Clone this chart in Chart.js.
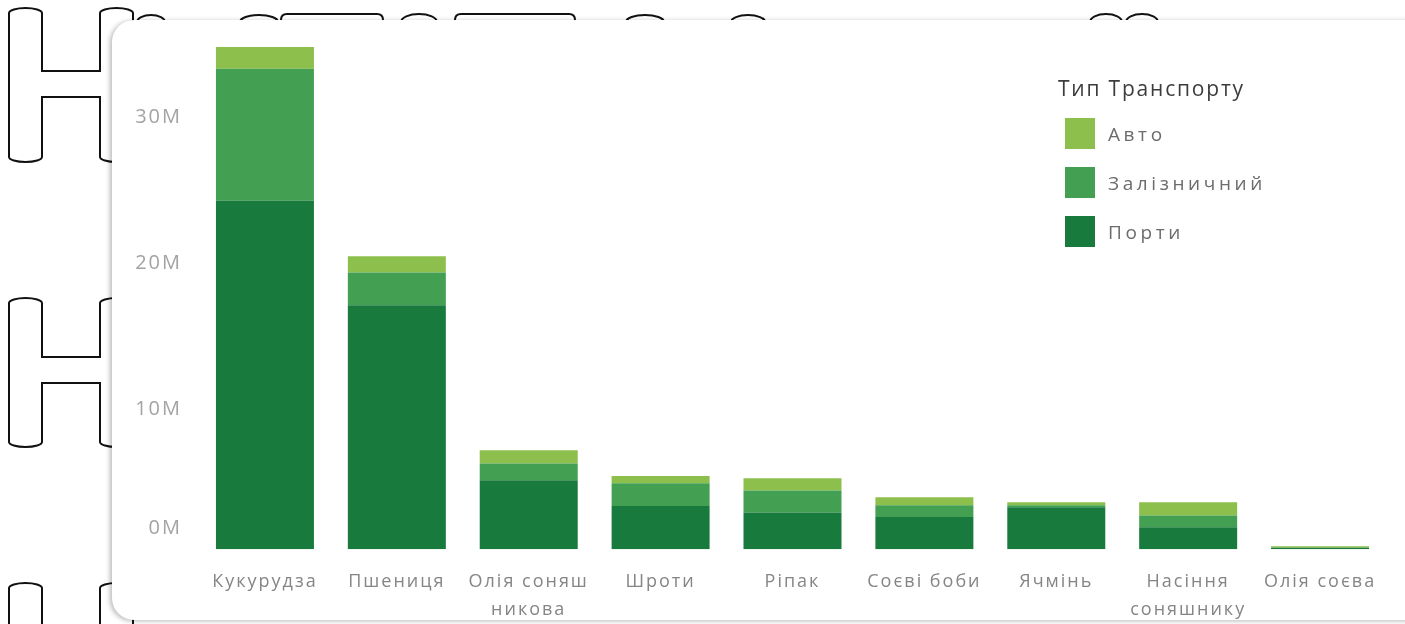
<!DOCTYPE html>
<html>
<head>
<meta charset="utf-8">
<script src="https://cdn.jsdelivr.net/npm/chart.js@4.4.1/dist/chart.umd.min.js"></script>
<style>
  html, body { margin: 0; padding: 0; background: #fff; }
  body { width: 1405px; height: 624px; position: relative; overflow: hidden; font-family: "Open Sans", sans-serif; }
  #deco { position: absolute; left: 0; top: 0; }
  #card {
    position: absolute; left: 112px; top: 20px; width: 1310px; height: 600px;
    background: #fff; border-radius: 22px 0 0 22px;
    box-shadow: -2px 1px 5px rgba(0,0,0,0.28);
  }
  #chartBox { position: absolute; left: 0; top: 0; width: 1293px; height: 623px; }
  #legend { position: absolute; left: 946px; top: 54px; }
  #legend .title { font-size: 21px; color: #3c3c3c; letter-spacing: 1.8px; margin-bottom: 7px; }
  #legend .item { display: flex; align-items: center; height: 49px; margin-left: 7px; }
  #legend .box { width: 30px; height: 31px; margin-right: 13px; }
  #legend .lbl { font-size: 19px; color: #6c6c6c; letter-spacing: 3.6px; }
</style>
</head>
<body>
<svg id="deco" width="1405" height="624" fill="#fff" stroke="#111" stroke-width="2">
  <path d="M9,13 A16.5,5 0 0 1 42,13 L42,71 L100,71 L100,13 A16.5,5 0 0 1 133,13 L133,157 A16.5,5 0 0 1 100,157 L100,97 L42,97 L42,157 A16.5,5 0 0 1 9,157 Z"/>
  <path d="M9,303 A16.5,5 0 0 1 42,303 L42,357 L100,357 L100,303 A16.5,5 0 0 1 133,303 L133,442 A16.5,5 0 0 1 100,442 L100,383 L42,383 L42,442 A16.5,5 0 0 1 9,442 Z"/>
  <path d="M9,588 A16.5,5 0 0 1 42,588 L42,640 L9,640 Z"/>
  <path d="M100,588 A16.5,5 0 0 1 133,588 L133,640 L100,640 Z"/>
  <path d="M137,22 A14,7 0 0 1 165,22"/>
  <path d="M240,22 A19,7 0 0 1 278,22"/>
  <path d="M281,20 Q281,14 287,14 L377,14 Q383,14 383,20"/>
  <path d="M401,22 A18,8 0 0 1 437,22"/>
  <path d="M455,20 Q455,14 461,14 L569,14 Q575,14 575,20"/>
  <path d="M626,22 A19,7 0 0 1 664,22"/>
  <path d="M731,22 A17,7 0 0 1 765,22"/>
  <path d="M1090,22 A16,8 0 0 1 1122,22"/>
  <path d="M1126,22 A16,8 0 0 1 1158,22"/>
</svg>
<div id="card">
  <div id="chartBox"><canvas id="myChart"></canvas></div>
  <div id="legend"></div>
</div>
<script>
// товари
let categories = ['Кукурудза', 'Пшениця', ['Олія соняш', 'никова'], 'Шроти', 'Ріпак', 'Соєві боби', 'Ячмінь', ['Насіння', 'соняшнику'], 'Олія соєва'];
// млн тонн, по типу транспорту
let porty = [23.8, 16.65, 4.7, 2.95, 2.5, 2.2, 2.87, 1.5, 0.1];
let zaliznychnyi = [9.0, 2.25, 1.15, 1.55, 1.5, 0.8, 0.13, 0.8, 0];
let avto = [1.5, 1.1, 0.9, 0.5, 0.85, 0.55, 0.2, 0.9, 0.1];
let yTicks = [0, 10, 20, 30];

let legendTitle = 'Тип Транспорту';
let colors = { avto: '#8cbf4b', zal: '#43a052', porty: '#187a3c' };

let spacing = {
    id: 'spacing',
    beforeUpdate(chart) { chart.ctx.letterSpacing = '2px'; },
    beforeDraw(chart) { chart.ctx.letterSpacing = '2px'; }
};

let ctx = document.getElementById('myChart').getContext('2d');

let chart = new Chart(ctx, {
    type: 'bar',
    data: {
        labels: categories,
        datasets: [
            { label: 'Порти', data: porty, backgroundColor: colors.porty },
            { label: 'Залізничний', data: zaliznychnyi, backgroundColor: colors.zal },
            { label: 'Авто', data: avto, backgroundColor: colors.avto }
        ]
    },
    options: {
        responsive: true,
        maintainAspectRatio: false,
        animation: false,
        layout: { padding: { top: 2, right: 19, bottom: 0, left: 0 } },
        datasets: { bar: { categoryPercentage: 1, barPercentage: 0.743, borderWidth: 0 } },
        plugins: { legend: { display: false }, tooltip: { enabled: false } },
        scales: {
            x: {
                stacked: true,
                grid: { display: false, drawTicks: false },
                border: { display: false },
                ticks: {
                    color: '#858585', padding: 19, maxRotation: 0, autoSkip: false,
                    font: { family: 'Open Sans', size: 18, lineHeight: 1.55 }
                }
            },
            y: {
                stacked: true,
                min: 0,
                max: 36,
                grid: { display: false, drawTicks: false },
                border: { display: false },
                afterBuildTicks(scale) { scale.ticks = yTicks.map(v => ({ value: v })); },
                afterFit(scale) {
                    scale.width = 87;
                    scale.paddingTop = 0;
                    scale.paddingBottom = 0;
                },
                ticks: {
                    color: '#a3a3a3', padding: 17,
                    font: { family: 'Open Sans', size: 20, lineHeight: 0.7 },
                    // порожні рядки лише зсувають підписи як в оригіналі
                    callback: v => v === 0 ? ['0M', '', '', ''] : ['', v + 'M']
                }
            }
        }
    },
    plugins: [spacing]
});

// легенда
let lg = document.getElementById('legend');
let t = document.createElement('div');
t.className = 'title';
t.textContent = legendTitle;
lg.appendChild(t);
chart.data.datasets.slice().reverse().forEach(ds => {
    let it = document.createElement('div');
    it.className = 'item';
    it.innerHTML = '<div class="box" style="background:' + ds.backgroundColor + '"></div><div class="lbl">' + ds.label + '</div>';
    lg.appendChild(it);
});
</script>
</body>
</html>
